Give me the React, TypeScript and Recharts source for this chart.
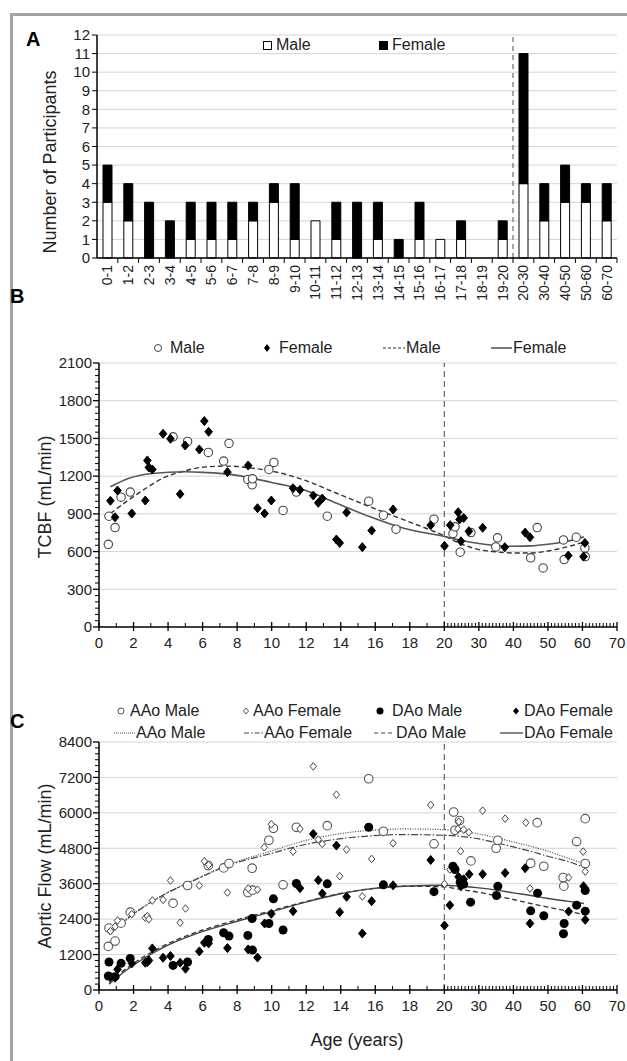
import {
  Bar,
  BarChart,
  CartesianGrid,
  ComposedChart,
  Line,
  ReferenceLine,
  Scatter,
  XAxis,
  YAxis,
} from 'recharts';

const FONT = "Arial, 'Liberation Sans', Helvetica, sans-serif";

// ---- Panel A: participants per age group ----
const ageGroups = [
  '0-1', '1-2', '2-3', '3-4', '4-5', '5-6', '6-7', '7-8', '8-9', '9-10',
  '10-11', '11-12', '12-13', '13-14', '14-15', '15-16', '16-17', '17-18', '18-19', '19-20',
  '20-30', '30-40', '40-50', '50-60', '60-70',
];
const maleCounts = [3, 2, 0, 0, 1, 1, 1, 2, 3, 1, 2, 1, 0, 1, 0, 1, 1, 1, 0, 1, 4, 2, 3, 3, 2];
const femaleCounts = [2, 2, 3, 2, 2, 2, 2, 1, 1, 3, 0, 2, 3, 2, 1, 2, 0, 1, 0, 1, 7, 2, 2, 1, 2];
const countTicks = [0, 1, 2, 3, 4, 5, 6, 7, 8, 9, 10, 11, 12];

// ---- Panel B: TCBF [age, mL/min] ----
const tcbfMale = [
  [0.54, 658], [0.58, 881], [0.93, 791], [1.28, 1033], [1.81, 1073], [4.29, 1513], [5.13, 1476],
  [6.33, 1389], [7.22, 1320], [7.53, 1460], [8.62, 1174], [8.87, 1131], [8.89, 1179], [9.84, 1253],
  [10.13, 1309], [10.66, 927], [11.43, 1073], [13.22, 881], [15.62, 1001], [16.47, 889], [17.2, 778],
  [19.4, 858], [22.5, 743], [23.1, 797], [24.6, 595], [27.7, 751], [34.9, 637], [35.4, 709],
  [45.0, 550], [46.9, 791], [48.6, 470], [54.5, 693], [54.7, 536], [58.2, 714], [60.7, 629], [60.8, 560],
];
const tcbfFemale = [
  [0.66, 1004], [0.93, 873], [1.07, 1086], [1.9, 903], [2.68, 1006], [2.8, 1325], [2.89, 1269],
  [3.09, 1253], [3.71, 1537], [4.14, 1497], [4.7, 1057], [4.99, 1444], [5.81, 1412], [6.1, 1638],
  [6.35, 1553], [7.44, 1232], [8.64, 1285], [9.18, 945], [9.59, 903], [9.98, 1006], [11.24, 1104],
  [11.64, 1091], [12.41, 1046], [12.7, 988], [12.93, 1022], [13.75, 696], [13.94, 669], [14.34, 911],
  [15.25, 635], [15.79, 767], [17.03, 935], [19.21, 810], [20.04, 645], [21.7, 810], [24.0, 913],
  [24.4, 855], [24.8, 682], [25.6, 868], [27.1, 762], [31.1, 789], [37.5, 635], [43.4, 751],
  [44.8, 714], [55.9, 568], [60.3, 560], [60.7, 669],
];
// fitted curves
const tcbfFitMale = [
  [0.66, 903], [1.7, 1009], [2.7, 1102], [3.65, 1181], [5, 1243], [6.17, 1274], [7.5, 1280],
  [8.7, 1266], [10, 1240], [11.9, 1168], [13.8, 1062], [15.7, 956], [17.7, 850], [20, 725],
  [24.6, 664], [30, 616], [35.3, 597], [40, 589], [45, 589], [50, 605], [55.6, 637], [60.4, 677],
];
const tcbfFitFemale = [
  [0.66, 1115], [1.7, 1181], [3.07, 1221], [5, 1235], [6.17, 1229], [7.5, 1216], [10, 1150],
  [11.9, 1089], [13.8, 982], [15.7, 876], [17.7, 783], [20, 720], [24.6, 690], [30, 664],
  [35.3, 648], [40, 642], [45, 645], [50, 658], [55.6, 682], [60.4, 717],
];
const tcbfTicks = [0, 300, 600, 900, 1200, 1500, 1800, 2100];

// ---- Panel C: aortic flow [age, mL/min] ----
const aaoMale = [
  [0.54, 1476], [0.58, 2096], [0.93, 1657], [1.28, 2265], [1.81, 2637], [4.29, 2941], [5.13, 3539],
  [6.33, 4215], [7.22, 4136], [7.53, 4283], [8.62, 3302], [8.87, 4125], [8.89, 3381], [9.84, 5072],
  [10.1, 5477], [10.66, 3561], [11.43, 5511], [13.22, 5567], [15.62, 7156], [16.47, 5376], [19.4, 4950],
  [22.7, 6029], [23.1, 5410], [24.4, 5737], [27.7, 4373], [35.0, 4801], [35.5, 5072], [45.0, 4294],
  [46.9, 5669], [48.8, 4192], [54.4, 3809], [54.6, 3516], [58.3, 5026], [60.8, 4283], [60.8, 5804],
];
const aaoFemale = [
  [0.66, 1995], [0.93, 2150], [1.07, 2355], [1.9, 2570], [2.68, 2446], [2.8, 2502], [2.89, 2400],
  [3.09, 3032], [3.71, 3054], [4.14, 3708], [4.7, 2277], [5.01, 2761], [5.81, 3539], [6.1, 4361],
  [6.35, 4238], [7.44, 3302], [8.64, 3437], [9.18, 3400], [9.57, 4835], [9.98, 5612], [11.24, 4688],
  [11.64, 5455], [12.41, 7573], [12.7, 5094], [12.93, 4947], [13.75, 6615], [13.94, 3854],
  [14.34, 4756], [15.25, 3167], [15.79, 4440], [17.03, 4970], [19.21, 6266], [20.04, 3590],
  [21.6, 4080], [23.9, 5455], [24.2, 5700], [24.7, 4700], [25.6, 5432], [27.1, 5342], [31.1, 6075],
  [37.6, 5804], [43.6, 5669], [44.8, 3437], [56.0, 3809], [60.2, 4688], [60.8, 4012],
];
const daoMale = [
  [0.54, 473], [0.58, 947], [0.93, 451], [1.28, 902], [1.81, 1071], [4.29, 834], [5.13, 947],
  [6.33, 1713], [7.22, 1938], [7.53, 1826], [8.62, 1848], [8.87, 2423], [8.89, 1352], [9.84, 2254],
  [10.1, 3088], [10.66, 2034], [11.43, 3606], [13.22, 3595], [15.62, 5511], [16.47, 3561], [19.4, 3330],
  [22.5, 4192], [23.1, 4080], [24.6, 3651], [25.6, 3584], [27.6, 2975], [35.1, 3201], [35.5, 3516],
  [45.0, 2682], [47.0, 3280], [48.8, 2513], [54.5, 1905], [54.7, 2254], [58.3, 2874], [60.8, 3370],
  [60.8, 2671],
];
const daoFemale = [
  [0.66, 451], [0.93, 417], [1.07, 699], [1.9, 902], [2.68, 924], [2.8, 947], [2.89, 1000],
  [3.09, 1409], [3.71, 1093], [4.14, 1150], [4.7, 924], [5.01, 721], [5.81, 1307], [6.1, 1600],
  [6.35, 1578], [7.44, 1420], [8.64, 1375], [9.18, 1100], [9.59, 2254], [9.98, 2581], [11.24, 2671],
  [11.64, 3449], [12.41, 5286], [12.7, 3719], [12.93, 3268], [13.75, 4891], [13.94, 2637],
  [14.34, 3156], [15.25, 1916], [15.79, 3009], [17.03, 3545], [19.21, 4403], [20.04, 2186],
  [21.6, 2874], [24.1, 3832], [24.8, 3516], [25.6, 3750], [27.2, 3922], [31.1, 3922], [37.6, 3967],
  [43.4, 4125], [44.8, 2254], [56.0, 2660], [60.3, 3516], [60.8, 2378],
];
const aaoFitMale = [
  [0.58, 1900], [1.7, 2450], [3.65, 3200], [5.6, 3750], [7.53, 4250], [9.94, 4700], [11.87, 5050],
  [13.8, 5280], [15.73, 5410], [17.66, 5455], [20, 5432], [24.6, 5376], [30, 5286], [35.3, 5150],
  [40, 5015], [45, 4869], [50, 4700], [55.6, 4474], [60.4, 4283],
];
const aaoFitFemale = [
  [0.58, 1880], [1.7, 2440], [3.65, 3190], [5.6, 3740], [7.53, 4230], [9.94, 4620], [11.87, 4920],
  [13.8, 5110], [15.73, 5220], [17.66, 5265], [20, 5240], [24.6, 5207], [30, 5117], [35.3, 4981],
  [40, 4846], [45, 4700], [50, 4530], [55.6, 4361], [60.4, 4159],
];
const daoFitMale = [
  [0.58, 260], [1.7, 780], [3.65, 1470], [5.6, 1950], [7.53, 2300], [9.94, 2680], [11.87, 2980],
  [13.8, 3250], [15.73, 3430], [17.66, 3516], [20, 3494], [24.6, 3404], [30, 3313], [35.3, 3178],
  [40, 3065], [45, 2930], [50, 2806], [55.6, 2671], [60.4, 2558],
];
const daoFitFemale = [
  [0.58, 200], [1.7, 720], [3.65, 1420], [5.6, 1900], [7.53, 2250], [9.94, 2640], [11.87, 2960],
  [13.8, 3235], [15.73, 3426], [17.66, 3516], [20, 3550], [24.6, 3516], [30, 3460], [35.3, 3381],
  [40, 3291], [45, 3201], [50, 3099], [55.6, 3009], [60.4, 2930],
];
const flowTicks = [0, 1200, 2400, 3600, 4800, 6000, 7200, 8400];

const ageTickLabels = [0, 2, 4, 6, 8, 10, 12, 14, 16, 18, 20, 30, 40, 50, 60, 70];

// broken age axis: one step = 2 years up to 20, then 10 years
const toPos = (age: number) => (age <= 20 ? age : 20 + (age - 20) / 5);
const toAge = (pos: number) => (pos <= 20 ? Math.round(pos) : Math.round(20 + (pos - 20) * 5));
const pts = (rows: number[][]) => rows.map(([a, v]) => ({ x: toPos(a), y: v }));

const minorAges: number[] = [];
for (let a = 0; a <= 70; a++) minorAges.push(a);
const ageAxisTicks = minorAges.map(toPos);

const barData = ageGroups.map((g, i) => ({ range: g, male: maleCounts[i], female: femaleCounts[i] }));

const stepTicks = (max: number, step: number) => {
  const t: number[] = [];
  for (let v = 0; v <= max; v += step) t.push(v);
  return t;
};

function AgeTick({ x, y, payload }: any) {
  const age = toAge(payload.value);
  const major = ageTickLabels.includes(age);
  return (
    <g>
      {major ? (
        <line x1={x} x2={x} y1={y - 5} y2={y + 4} stroke="#000" strokeWidth={1.3} />
      ) : (
        <line x1={x} x2={x} y1={y - 4} y2={y} stroke="#000" strokeWidth={1} />
      )}
      {major && (
        <text x={x} y={y + 21} textAnchor="middle" fontSize={15} fill="#222" fontFamily={FONT}>
          {age}
        </text>
      )}
    </g>
  );
}

function makeValueTick(majors: number[]) {
  return function ValueTick({ x, y, payload }: any) {
    const major = majors.includes(payload.value);
    return (
      <g>
        <line x1={x - (major ? 6 : 4)} x2={x} y1={y} y2={y} stroke="#000" strokeWidth={major ? 1.3 : 1} />
        {major && (
          <text x={x - 7} y={y} dy="0.35em" textAnchor="end" fontSize={15} fill="#222" fontFamily={FONT}>
            {payload.value}
          </text>
        )}
      </g>
    );
  };
}
const TcbfTick = makeValueTick(tcbfTicks);
const FlowTick = makeValueTick(flowTicks);

function GroupTick({ x, y, payload }: any) {
  return (
    <g transform={`translate(${x},${y})`}>
      <line x1={10.4} x2={10.4} y1={0} y2={5} stroke="#000" />
      <text transform="rotate(-90)" x={-7} y={0} dy="0.35em" textAnchor="end" fontSize={14} fill="#222" fontFamily={FONT}>
        {payload.value}
      </text>
    </g>
  );
}

function CountTick({ x, y, payload }: any) {
  return (
    <g>
      <line x1={x - 5} x2={x} y1={y} y2={y} stroke="#000" />
      <text x={x - 7} y={y} dy="0.35em" textAnchor="end" fontSize={15} fill="#222" fontFamily={FONT}>
        {payload.value}
      </text>
    </g>
  );
}

const openCircle = (r: number, stroke: string) => (p: any) =>
  <circle cx={p.cx} cy={p.cy} r={r} fill="#fff" stroke={stroke} strokeWidth={1.1} />;
const filledCircle = (r: number) => (p: any) => <circle cx={p.cx} cy={p.cy} r={r} fill="#000" />;
const diamond = (h: number, w: number, filled: boolean) => (p: any) => (
  <path
    d={`M${p.cx},${p.cy - h}L${p.cx + w},${p.cy}L${p.cx},${p.cy + h}L${p.cx - w},${p.cy}Z`}
    fill={filled ? '#000' : '#fff'}
    stroke={filled ? '#000' : '#444'}
    strokeWidth={1}
  />
);

const abs = (left: number, top: number, extra: any = {}) => ({
  position: 'absolute' as const,
  left,
  top,
  ...extra,
});

function Key({ x, y, icon, iconW, text }: any) {
  return (
    <div style={abs(x, y - 10, { height: 20, display: 'flex', alignItems: 'center', whiteSpace: 'nowrap', fontSize: 16, color: '#222' })}>
      <svg width={iconW} height={20} style={{ display: 'block' }}>
        {icon}
      </svg>
      <span>{text}</span>
    </div>
  );
}

function Title({ cx, cy, text, rotate, size = 17 }: any) {
  return (
    <div
      style={abs(cx, cy, {
        transform: `translate(-50%, -50%)${rotate ? ' rotate(-90deg)' : ''}`,
        whiteSpace: 'nowrap',
        fontSize: size,
        color: '#222',
      })}
    >
      {text}
    </div>
  );
}

const gridStroke = '#d4d4d4';
const axisLine = { stroke: '#000', strokeWidth: 1.5 };
// axes keep a real size; margins put the plot box where the figure has it
const YW = 40;
const XH = 30;

export default function App() {
  return (
    <div style={abs(0, 0, { width: 627, height: 1061, overflow: 'hidden', background: '#fff', fontFamily: FONT })}>
      <div style={abs(10, 13, { width: 700, height: 1100, borderLeft: '3px solid #a3a3a3', borderTop: '3px solid #a3a3a3' })} />

      {/* Panel A: plot box x 97-617, y 35-258 */}
      <div style={abs(0, 0)}>
        <BarChart width={627} height={320} data={barData} margin={{ top: 35, right: 10, left: 97 - YW, bottom: 62 - XH }} barSize={9}>
          <CartesianGrid stroke={gridStroke} vertical={false} />
          <XAxis dataKey="range" height={XH} interval={0} tickLine={false} tickSize={0} tickMargin={0} tick={<GroupTick />} axisLine={axisLine} />
          <YAxis width={YW} domain={[0, 12]} ticks={countTicks} interval={0} tickLine={false} tickSize={0} tickMargin={0} tick={<CountTick />} axisLine={axisLine} />
          <Bar dataKey="male" stackId="s" fill="#fff" stroke="#000" strokeWidth={1} isAnimationActive={false} />
          <Bar dataKey="female" stackId="s" fill="#000" stroke="#000" strokeWidth={1} isAnimationActive={false} />
          <ReferenceLine x="20-30" position="start" stroke="#777" strokeDasharray="5 4" strokeWidth={1.3} />
        </BarChart>
      </div>
      <div style={abs(26, 28, { fontSize: 20, fontWeight: 'bold' })}>A</div>
      <Title cx={50} cy={162} size={18} text="Number of Participants" rotate />
      <Key x={261} y={45} iconW={15} text="Male" icon={<rect x={2.5} y={6.5} width={8} height={8} fill="#fff" stroke="#000" />} />
      <Key x={377} y={45} iconW={15} text="Female" icon={<rect x={2} y={6} width={9} height={9} fill="#000" />} />

      {/* Panel B: plot box x 99-617, y 363-627 */}
      <div style={abs(0, 300)}>
        <ComposedChart width={627} height={360} margin={{ top: 63, right: 10, left: 99 - YW, bottom: 33 - XH }}>
          <CartesianGrid stroke={gridStroke} vertical={false} horizontalValues={tcbfTicks.slice(1)} />
          <XAxis type="number" dataKey="x" domain={[0, 30]} ticks={ageAxisTicks} interval={0} height={XH} tickLine={false} tickSize={0} tickMargin={0} tick={<AgeTick />} axisLine={axisLine} />
          <YAxis type="number" domain={[0, 2100]} ticks={stepTicks(2100, 50)} interval={0} width={YW} tickLine={false} tickSize={0} tickMargin={0} tick={<TcbfTick />} axisLine={axisLine} />
          <ReferenceLine x={20} stroke="#666" strokeDasharray="6 4" strokeWidth={1.2} />
          <Line data={pts(tcbfFitMale)} dataKey="y" type="monotone" stroke="#333" strokeWidth={1.4} strokeDasharray="5 3" dot={false} isAnimationActive={false} />
          <Line data={pts(tcbfFitFemale)} dataKey="y" type="monotone" stroke="#555" strokeWidth={1.6} dot={false} isAnimationActive={false} />
          <Scatter data={pts(tcbfMale)} dataKey="y" shape={openCircle(4.2, '#444')} isAnimationActive={false} />
          <Scatter data={pts(tcbfFemale)} dataKey="y" shape={diamond(4.5, 3.8, true)} isAnimationActive={false} />
        </ComposedChart>
      </div>
      <div style={abs(10, 285, { fontSize: 20, fontWeight: 'bold' })}>B</div>
      <Title cx={45} cy={497} size={18} text="TCBF (mL/min)" rotate />
      <Key x={151} y={348} iconW={19} text="Male" icon={<circle cx={7} cy={10} r={3.5} fill="#fff" stroke="#444" />} />
      <Key x={260} y={348} iconW={19} text="Female" icon={<path d="M7,6L10,10L7,14L4,10Z" fill="#000" />} />
      <Key x={383} y={348} iconW={23} text="Male" icon={<line x1={0} x2={22} y1={10} y2={10} stroke="#333" strokeWidth={1.2} strokeDasharray="3 2" />} />
      <Key x={491} y={348} iconW={22} text="Female" icon={<line x1={0} x2={21} y1={10} y2={10} stroke="#333" strokeWidth={1.3} />} />

      {/* Panel C: plot box x 99-617, y 742-990 */}
      <div style={abs(0, 700)}>
        <ComposedChart width={627} height={320} margin={{ top: 42, right: 10, left: 99 - YW, bottom: 30 - XH }}>
          <CartesianGrid stroke={gridStroke} vertical={false} horizontalValues={flowTicks.slice(1)} />
          <XAxis type="number" dataKey="x" domain={[0, 30]} ticks={ageAxisTicks} interval={0} height={XH} tickLine={false} tickSize={0} tickMargin={0} tick={<AgeTick />} axisLine={axisLine} />
          <YAxis type="number" domain={[0, 8400]} ticks={stepTicks(8400, 200)} interval={0} width={YW} tickLine={false} tickSize={0} tickMargin={0} tick={<FlowTick />} axisLine={axisLine} />
          <ReferenceLine x={20} stroke="#666" strokeDasharray="6 4" strokeWidth={1.2} />
          <Line data={pts(aaoFitMale)} dataKey="y" type="monotone" stroke="#444" strokeWidth={1.2} strokeDasharray="1 1.5" dot={false} isAnimationActive={false} />
          <Line data={pts(aaoFitFemale)} dataKey="y" type="monotone" stroke="#444" strokeWidth={1.2} strokeDasharray="7 2 1.5 2" dot={false} isAnimationActive={false} />
          <Line data={pts(daoFitMale)} dataKey="y" type="monotone" stroke="#333" strokeWidth={1.3} strokeDasharray="5 3" dot={false} isAnimationActive={false} />
          <Line data={pts(daoFitFemale)} dataKey="y" type="monotone" stroke="#444" strokeWidth={1.4} dot={false} isAnimationActive={false} />
          <Scatter data={pts(aaoMale)} dataKey="y" shape={openCircle(4.3, '#555')} isAnimationActive={false} />
          <Scatter data={pts(aaoFemale)} dataKey="y" shape={diamond(3.8, 3.2, false)} isAnimationActive={false} />
          <Scatter data={pts(daoMale)} dataKey="y" shape={filledCircle(4.5)} isAnimationActive={false} />
          <Scatter data={pts(daoFemale)} dataKey="y" shape={diamond(4.5, 3.8, true)} isAnimationActive={false} />
        </ComposedChart>
      </div>
      <div style={abs(10, 710, { fontSize: 20, fontWeight: 'bold' })}>C</div>
      <Title cx={45} cy={866} size={18} text="Aortic Flow (mL/min)" rotate />
      <Title cx={357} cy={1040} size={18} text="Age (years)" />
      <Key x={113} y={711} iconW={17} text="AAo Male" icon={<circle cx={8} cy={10} r={3} fill="#fff" stroke="#555" />} />
      <Key x={239} y={711} iconW={14} text="AAo Female" icon={<path d="M7,7L9.5,10L7,13L4.5,10Z" fill="#fff" stroke="#555" />} />
      <Key x={372} y={711} iconW={20} text="DAo Male" icon={<circle cx={8} cy={10} r={3.5} fill="#000" />} />
      <Key x={509} y={711} iconW={15} text="DAo Female" icon={<path d="M7,6.5L10,10L7,13.5L4,10Z" fill="#000" />} />
      <Key x={114} y={733} iconW={22} text="AAo Male" icon={<line x1={0} x2={21} y1={10} y2={10} stroke="#444" strokeWidth={1.2} strokeDasharray="1 1" />} />
      <Key x={244} y={733} iconW={20} text="AAo Female" icon={<line x1={0} x2={19} y1={10} y2={10} stroke="#444" strokeWidth={1.2} strokeDasharray="5 2 1.5 2" />} />
      <Key x={374} y={733} iconW={22} text="DAo Male" icon={<line x1={0} x2={21} y1={10} y2={10} stroke="#444" strokeWidth={1.2} strokeDasharray="4 3" />} />
      <Key x={500} y={733} iconW={24} text="DAo Female" icon={<line x1={0} x2={23} y1={10} y2={10} stroke="#444" strokeWidth={1.3} />} />
    </div>
  );
}
